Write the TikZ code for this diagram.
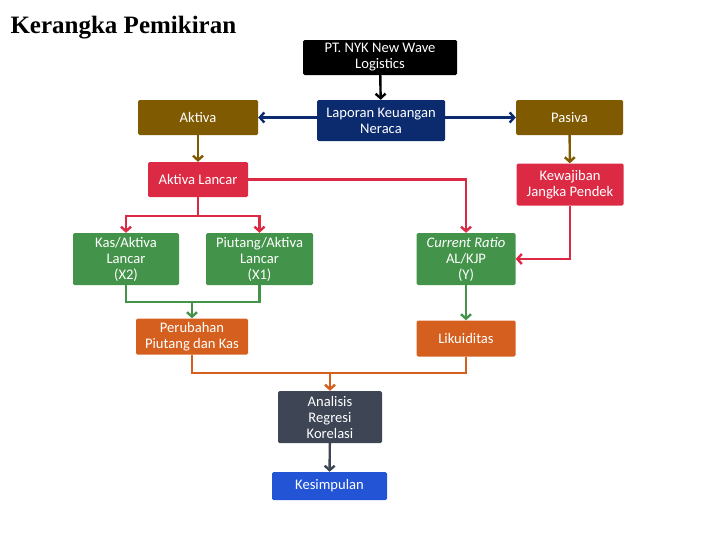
\documentclass[tikz,border=0pt]{standalone}
\usepackage{fontspec}
\setmainfont{Carlito}
\newfontfamily\titlefont{Liberation Serif}
\usetikzlibrary{arrows.meta}

\definecolor{nykblack}{HTML}{000000}
\definecolor{navy}{HTML}{0B2B6E}
\definecolor{olive}{HTML}{7F5A00}
\definecolor{crimson}{HTML}{DC2A45}
\definecolor{leaf}{HTML}{43944A}
\definecolor{rust}{HTML}{D45F1E}
\definecolor{slate}{HTML}{3E4555}
\definecolor{royal}{HTML}{2354D6}

\begin{document}
\begin{tikzpicture}[x=1pt,y=-1pt,>={Straight Barb[length=4.5pt,width=10pt]},
  box/.style={rectangle,rounded corners=1.5pt,text=white,align=center,
    inner sep=0pt,font=\fontsize{14.6}{16}\selectfont},
  link/.style={line width=2.4pt}]
  \useasboundingbox (0,0) rectangle (728,546);
  \node[anchor=base west,font=\titlefont\bfseries\fontsize{25}{28}\selectfont] (title) at (7,33) {Kerangka Pemikiran};
  % boxes
  \node[box,fill=nykblack,minimum width=154,minimum height=35] (nyk) at (380,57.5) {PT. NYK New Wave\\Logistics};
  \node[box,fill=navy,minimum width=128,minimum height=41] (lap) at (381,120.5) {Laporan Keuangan\\Neraca};
  \node[box,fill=olive,minimum width=120,minimum height=35] (akt) at (198,117.5) {Aktiva};
  \node[box,fill=olive,minimum width=107,minimum height=35] (pas) at (569.5,117.5) {Pasiva};
  \node[box,fill=crimson,minimum width=100,minimum height=35] (al) at (198,179.5) {Aktiva Lancar};
  \node[box,fill=crimson,minimum width=107,minimum height=42] (kjp) at (570,184.5) {Kewajiban\\Jangka Pendek};
  \node[box,fill=leaf,minimum width=106,minimum height=52] (kas) at (126,259) {Kas/Aktiva\\Lancar\\(X2)};
  \node[box,fill=leaf,minimum width=107,minimum height=52] (piu) at (259.5,259) {Piutang/Aktiva\\Lancar\\(X1)};
  \node[box,fill=leaf,minimum width=99,minimum height=52] (cr) at (466,259) {\textit{Current Ratio}\\AL/KJP\\(Y)};
  \node[box,fill=rust,minimum width=112,minimum height=36] (per) at (192,336.5) {Perubahan\\Piutang dan Kas};
  \node[box,fill=rust,minimum width=99,minimum height=36] (lik) at (466,338.5) {Likuiditas};
  \node[box,fill=slate,minimum width=104,minimum height=52] (ana) at (330,417) {Analisis\\Regresi\\Korelasi};
  \node[box,fill=royal,minimum width=115,minimum height=28] (kes) at (329.5,486) {Kesimpulan};
  % junctions
  \coordinate (alsplit) at (198,216);
  \coordinate (greenjoin) at (192,302);
  \coordinate (rustjoin) at (330,373);
  % connectors
  \draw[link,->,nykblack] (nyk) -- (lap);
  \draw[link,->,navy] (lap.west |- akt.east) -- (akt.east);
  \draw[link,->,navy] (lap.east |- pas.west) -- (pas.west);
  \draw[link,->,olive] (akt) -- (al);
  \draw[link,->,olive] (pas) -- (kjp);
  \draw[link,crimson] (al.south) -- (alsplit);
  \draw[link,->,crimson] (alsplit) -| (kas.north);
  \draw[link,->,crimson] (alsplit) -| (piu.north);
  \draw[link,->,crimson] (al.east) -| (cr.north);
  \draw[link,->,crimson] (kjp.south) |- (cr.east);
  \draw[link,leaf] (kas.south) |- (greenjoin) -| (piu.south);
  \draw[link,->,leaf] (greenjoin) -- (per.north);
  \draw[link,->,leaf] (cr) -- (lik);
  \draw[link,rust] (per.south) |- (rustjoin) -| (lik.south);
  \draw[link,->,rust] (rustjoin) -- (ana.north);
  \draw[link,->,slate] (ana) -- (kes);
\end{tikzpicture}
\end{document}
